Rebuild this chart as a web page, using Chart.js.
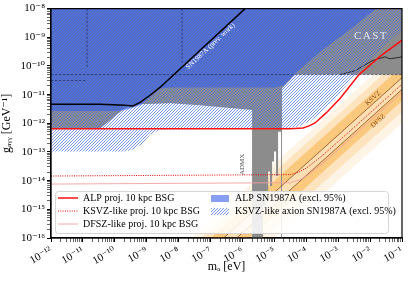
<!DOCTYPE html>
<html><head><meta charset="utf-8">
<script src="https://cdn.jsdelivr.net/npm/chart.js@4"></script>
<style>html,body{margin:0;padding:0;background:#fff}</style>
</head><body>
<canvas id="c" width="416" height="281" style="width:416px;height:281px;display:block"></canvas>
<script>
// ---------- axis ticks ----------
const massExps = [-12,-11,-10,-9,-8,-7,-6,-5,-4,-3,-2,-1];
const massTickLabels = ['10⁻¹²','10⁻¹¹','10⁻¹⁰','10⁻⁹','10⁻⁸','10⁻⁷','10⁻⁶','10⁻⁵','10⁻⁴','10⁻³','10⁻²','10⁻¹'];
const couplingExps = [-16,-15,-14,-13,-12,-11,-10,-9,-8];
const couplingTickLabels = ['10⁻¹⁶','10⁻¹⁵','10⁻¹⁴','10⁻¹³','10⁻¹²','10⁻¹¹','10⁻¹⁰','10⁻⁹','10⁻⁸'];

// ---------- data (m_a in eV, g in GeV^-1) ----------
// ALP projection, 10 kpc BSG (red solid)
const alpProjM = [1e-12, 3.1e-5, 7.9e-5, 1.22e-4, 1.89e-4, 4.2e-4, 1.16e-3, 4.5e-3, 2.1e-2, 1e-1];
const alpProjG = [6.4e-13, 6.4e-13, 6.9e-13, 8.1e-13, 1.03e-12, 2.3e-12, 7.5e-12, 5.0e-11, 2.2e-10, 7.9e-10];
// KSVZ-like projection (red dotted)
const ksvzProjM = [1e-12, 3.16e-5, 5.6e-5, 1e-4, 3.16e-4, 1e-3, 1e-2, 1e-1];
const ksvzProjG = [1.45e-14, 1.62e-14, 1.94e-14, 2.72e-14, 7.44e-14, 2.3e-13, 2.3e-12, 2.3e-11];
// DFSZ-like projection (light red)
const dfszProjM = [1e-12, 3.16e-5, 6.3e-5, 1e-4, 3.16e-4, 1e-3, 1e-2, 1e-1];
const dfszProjG = [7.6e-15, 8.5e-15, 1.07e-14, 1.42e-14, 3.87e-14, 1.22e-13, 1.2e-12, 1.2e-11];
// SN1987A previous work (black)
const prevWorkM = [1e-12, 3.4e-11, 2.1e-10, 3.7e-10, 6.2e-10, 1.27e-9, 2.6e-9, 1.21e-6];
const prevWorkG = [4.6e-12, 4.6e-12, 4.3e-12, 4.0e-12, 5.4e-12, 9.5e-12, 1.78e-11, 1e-8];
// ALP SN1987A excluded region (lower boundary)
const alpExclM = [1e-12, 1.26e-10, 2.6e-10, 6.2e-10, 1.27e-9, 2.6e-9, 5.4e-9, 1.05e-5, 1.9e-5, 2.9e-5, 4.5e-5, 2.7e-4, 2.4e-3, 1.54e-2];
const alpExclG = [2.7e-12, 2.7e-12, 3.1e-12, 4.3e-12, 8.1e-12, 1.65e-11, 1.78e-11, 1.78e-11, 2.1e-11, 3.1e-11, 5.4e-11, 3.1e-10, 1.9e-9, 1e-8];
// KSVZ-like axion SN1987A excluded region (lower boundary)
const ksvzExclM = [1e-12, 2.1e-10, 3.7e-10, 7.7e-10, 1.27e-9, 2.6e-9, 3.1e-5, 6.4e-5, 1.52e-4, 3.6e-4, 1.16e-3, 2.7e-3, 1e-2, 1e-1];
const ksvzExclG = [1.04e-13, 1.04e-13, 1.22e-13, 1.96e-13, 4.0e-13, 5.9e-13, 6.9e-13, 8.1e-13, 1.31e-12, 2.9e-12, 1.2e-11, 3.4e-11, 1.63e-10, 1.75e-9];
// existing limits (grey, lower boundary incl. haloscopes)
const limitsM = [1e-12, 3.4e-11, 2.1e-10, 6.2e-10, 5.4e-9, 4.7e-8, 4.1e-7, 2.0e-6, 2.0e-6, 4.4e-6, 4.4e-6, 5.5e-6, 5.5e-6, 6.4e-6, 6.4e-6, 7.3e-6, 7.3e-6, 8.5e-6, 8.5e-6, 9.8e-6, 9.8e-6, 1.13e-5, 1.13e-5, 1.31e-5, 1.31e-5, 1.62e-5, 1.62e-5, 1.74e-5, 1.74e-5, 4.5e-5, 1e-1];
const limitsG = [6.4e-13, 6.4e-13, 3.4e-12, 4.6e-12, 5.0e-12, 4.3e-12, 3.4e-12, 2.9e-12, 1e-16, 1e-16, 1.34e-15, 1.34e-15, 4.4e-15, 4.4e-15, 2.1e-14, 2.1e-14, 6.5e-15, 6.5e-15, 4.7e-14, 4.7e-14, 1.04e-13, 1.04e-13, 1.44e-14, 1.44e-14, 5.1e-13, 5.1e-13, 1e-16, 1e-16, 1.65e-11, 5.0e-11, 5.0e-11];
// other limit (thin black, top right)
const otherLimitM = [1.16e-3, 3.4e-3, 7.0e-3, 1.16e-2, 1.78e-2, 2.95e-2, 4.2e-2, 1e-1];
const otherLimitG = [5.0e-11, 6.8e-11, 1.1e-10, 1.51e-10, 1.77e-10, 2.07e-10, 1.77e-10, 2.07e-10];
// dashed contours
const castDashM = [1e-12, 1e-1];
const castDashG = [5.0e-11, 5.0e-11];
const dash2M = [1e-12, 1.35e-11];
const dash2G = [3.1e-11, 3.1e-11];
const dash3M = [1.35e-11, 1.35e-11];
const dash3G = [1e-8, 8.7e-11];
const dash4M = [1.28e-8, 1.28e-8];
const dash4G = [1e-8, 1.29e-10];
// QCD axion band
const qcdMass = [1e-8, 1];
const ksvzLineG = [3.9e-18, 3.9e-10];
const dfszLineG = [1.52e-18, 1.52e-10];
const qcdBandEdgesG = [[4e-17,4e-9],[2e-17,2e-9],[1e-17,1e-9],[3.9e-18,3.9e-10],[1.52e-18,1.52e-10],[6e-19,6e-11],[2.5e-19,2.5e-11],[1e-19,1e-11]];
// in-plot labels
const annotationTexts = ['CAST','SN1987A (prev. work)','ADMX','KSVZ','DFSZ'];
const annotationM = [1.07e-2, 1.0e-7, 9.7e-7, 1.24e-2, 1.78e-2];
const annotationG = [1.09e-9, 4.9e-10, 3.7e-14, 7.5e-12, 1.21e-12];
// legend
const legendLabels = ['ALP proj. 10 kpc BSG','KSVZ-like proj. 10 kpc BSG','DFSZ-like proj. 10 kpc BSG','ALP SN1987A (excl. 95%)','KSVZ-like axion SN1987A (excl. 95%)'];

// ---------- helpers ----------
const zip = (ms, gs) => ms.map((m, i) => ({x: m, y: gs[i]}));
const SERIF = '"Liberation Serif", "DejaVu Serif", serif';

function hatchPattern(color, size, lw){
  const c = document.createElement('canvas'); c.width = size; c.height = size;
  const x = c.getContext('2d'); x.strokeStyle = color; x.lineWidth = lw;
  x.beginPath();
  x.moveTo(-1, size + 1); x.lineTo(size + 1, -1);
  x.moveTo(-1, 1); x.lineTo(1, -1);
  x.moveTo(size - 1, size + 1); x.lineTo(size + 1, size - 1);
  x.stroke();
  return document.getElementById('c').getContext('2d').createPattern(c, 'repeat');
}
const hatch = hatchPattern('rgb(75,115,235)', 3, 0.75);
const BLUE = 'rgba(55,95,235,0.6)';
const GREY = 'rgb(140,140,140)';

function logTicks(a, b){
  const t = [];
  for (let e = a; e <= b; e++) for (let k = 1; k < 10; k++) { if (e === b && k > 1) break; t.push({value: k * Math.pow(10, e), major: k === 1}); }
  return t;
}

const base = {pointRadius: 0, pointHoverRadius: 0, tension: 0, borderWidth: 0, fill: false, borderColor: 'rgba(0,0,0,0)'};
const ds = [];
// QCD band
qcdBandEdgesG.forEach((e, i) => {
  const alphas = [0.12, 0.3, 0.6, 0.35, 0.6, 0.3, 0.12];
  ds.push(Object.assign({}, base, {data: zip(qcdMass, e), fill: i === 0 ? false : '-1', backgroundColor: i === 0 ? 'transparent' : `rgba(247,165,40,${alphas[i-1]})`}));
});
ds.push(Object.assign({}, base, {data: zip(limitsM, limitsG), fill: 'end', backgroundColor: GREY}));
ds.push(Object.assign({}, base, {data: zip(otherLimitM, otherLimitG), borderWidth: 0.8, borderColor: '#111'}));
ds.push(Object.assign({}, base, {data: zip(ksvzExclM, ksvzExclG), fill: 'end', backgroundColor: hatch}));
ds.push(Object.assign({}, base, {data: zip(alpExclM, alpExclG), fill: 'end', backgroundColor: BLUE}));
[[castDashM, castDashG], [dash2M, dash2G], [dash3M, dash3G], [dash4M, dash4G]].forEach(([m, g]) => {
  ds.push(Object.assign({}, base, {data: zip(m, g), borderWidth: 0.8, borderColor: 'rgba(25,30,70,0.7)', borderDash: [2.5, 1.5]}));
});
ds.push(Object.assign({}, base, {data: zip(qcdMass, ksvzLineG), borderWidth: 0.8, borderColor: '#8b4a1c'}));
ds.push(Object.assign({}, base, {data: zip(qcdMass, dfszLineG), borderWidth: 0.8, borderColor: '#8b4a1c'}));
ds.push(Object.assign({}, base, {data: zip(prevWorkM, prevWorkG), borderWidth: 1.5, borderColor: '#000'}));
ds.push(Object.assign({}, base, {data: zip(dfszProjM, dfszProjG), borderWidth: 0.9, borderColor: '#f5a0a0'}));
ds.push(Object.assign({}, base, {data: zip(ksvzProjM, ksvzProjG), borderWidth: 1, borderColor: '#e00000', borderDash: [1, 1.3]}));
ds.push(Object.assign({}, base, {data: zip(alpProjM, alpProjG), borderWidth: 1.5, borderColor: '#ff1010'}));
ds.forEach((d, i) => { d.order = ds.length - i; });

const frameAndLabels = {
  id: 'frameAndLabels',
  afterDatasetsDraw(chart){
    const {ctx, chartArea: a, scales: {x, y}} = chart;
    ctx.save();
    ctx.beginPath(); ctx.rect(a.left, a.top, a.right - a.left, a.bottom - a.top); ctx.clip();
    const styles = [
      {a: 0, c: 'rgba(235,238,250,0.9)', f: '11px', ls: '1.5px'},
      {a: -43, c: '#fff', f: '7px', ls: '0px'},
      {a: -90, c: '#555', f: '7px', ls: '0px'},
      {a: -42, c: '#8b4a1c', f: '7px', ls: '0px'},
      {a: -42, c: '#8b4a1c', f: '7px', ls: '0px'}
    ];
    annotationTexts.forEach((t, i) => {
      const s = styles[i];
      ctx.save();
      ctx.translate(x.getPixelForValue(annotationM[i]), y.getPixelForValue(annotationG[i]));
      ctx.rotate(s.a * Math.PI / 180);
      ctx.font = `${s.f} ${SERIF}`; ctx.fillStyle = s.c; ctx.letterSpacing = s.ls;
      ctx.textAlign = 'center'; ctx.textBaseline = 'middle';
      ctx.fillText(t, 0, 0);
      ctx.restore();
    });
    ctx.restore();
    ctx.save();
    ctx.strokeStyle = '#000'; ctx.lineWidth = 1.2;
    ctx.strokeRect(a.left, a.top, a.right - a.left, a.bottom - a.top);
    ctx.restore();
  },
  afterDraw(chart){
    const ctx = chart.ctx;
    ctx.save();
    const bx = 55.5, by = 191.5, bw = 333, bh = 42;
    ctx.beginPath(); ctx.roundRect(bx, by, bw, bh, 3);
    ctx.fillStyle = 'rgba(255,255,255,0.85)'; ctx.fill();
    ctx.strokeStyle = '#d6d6d6'; ctx.lineWidth = 1; ctx.stroke();
    ctx.font = `10px ${SERIF}`; ctx.fillStyle = '#000'; ctx.textBaseline = 'middle'; ctx.textAlign = 'left';
    const rows = [198, 211, 224];
    const lineStyles = [{c: '#ff1010', w: 1.5, d: []}, {c: '#e00000', w: 1, d: [1, 1.3]}, {c: '#f5a0a0', w: 0.9, d: []}];
    for (let i = 0; i < 3; i++) {
      ctx.save(); ctx.strokeStyle = lineStyles[i].c; ctx.lineWidth = lineStyles[i].w; ctx.setLineDash(lineStyles[i].d);
      ctx.beginPath(); ctx.moveTo(58, rows[i]); ctx.lineTo(78, rows[i]); ctx.stroke(); ctx.restore();
      ctx.fillText(legendLabels[i], 83, rows[i] + 0.5);
    }
    ctx.fillStyle = 'rgba(55,95,235,0.6)'; ctx.fillRect(211, rows[0] - 3, 18, 7);
    ctx.fillStyle = hatch; ctx.fillRect(211, rows[1] - 3, 18, 7);
    ctx.fillStyle = '#000';
    ctx.fillText(legendLabels[3], 235, rows[0] + 0.5);
    ctx.fillText(legendLabels[4], 235, rows[1] + 0.5);
    ctx.restore();
  }
};

const tickFont = {family: SERIF, size: 11};
new Chart(document.getElementById('c'), {
  type: 'line',
  data: {datasets: ds},
  options: {
    responsive: false, animation: false, events: [],
    layout: {padding: {left: 0, right: 14, top: 5, bottom: 0}},
    plugins: {legend: {display: false}, tooltip: {enabled: false}},
    scales: {
      x: {
        type: 'logarithmic', min: 1e-12, max: 1e-1,
        afterBuildTicks: s => { s.ticks = logTicks(-12, -1); },
        afterFit: s => { s.height = 43; },
        ticks: {autoSkip: false, minRotation: 30, maxRotation: 30, color: '#000', font: tickFont, padding: 2,
          callback: (v, i, t) => t[i].major ? massTickLabels[massExps.indexOf(Math.round(Math.log10(v)))] : ''},
        grid: {drawOnChartArea: false, tickLength: 4, tickColor: '#000', tickWidth: c => (c.tick && c.tick.major) ? 1 : 0.6},
        border: {color: '#000', width: 1.2},
        title: {display: true, text: 'mₐ [eV]', color: '#000', font: {family: SERIF, size: 12}, padding: {top: 0, bottom: 7}}
      },
      y: {
        type: 'logarithmic', min: 1e-16, max: 1e-8,
        afterBuildTicks: s => { s.ticks = logTicks(-16, -8); },
        afterFit: s => { s.width = 51; },
        ticks: {autoSkip: false, color: '#000', font: tickFont, padding: 2,
          callback: (v, i, t) => t[i].major ? couplingTickLabels[couplingExps.indexOf(Math.round(Math.log10(v)))] : ''},
        grid: {drawOnChartArea: false, tickLength: 4, tickColor: '#000', tickWidth: c => (c.tick && c.tick.major) ? 1 : 0.6},
        border: {color: '#000', width: 1.2},
        title: {display: true, text: 'gₐᵧᵧ [GeV⁻¹]', color: '#000', font: {family: SERIF, size: 12}, padding: {top: 0, bottom: 0}}
      }
    }
  },
  plugins: [frameAndLabels]
});
</script>
</body></html>
